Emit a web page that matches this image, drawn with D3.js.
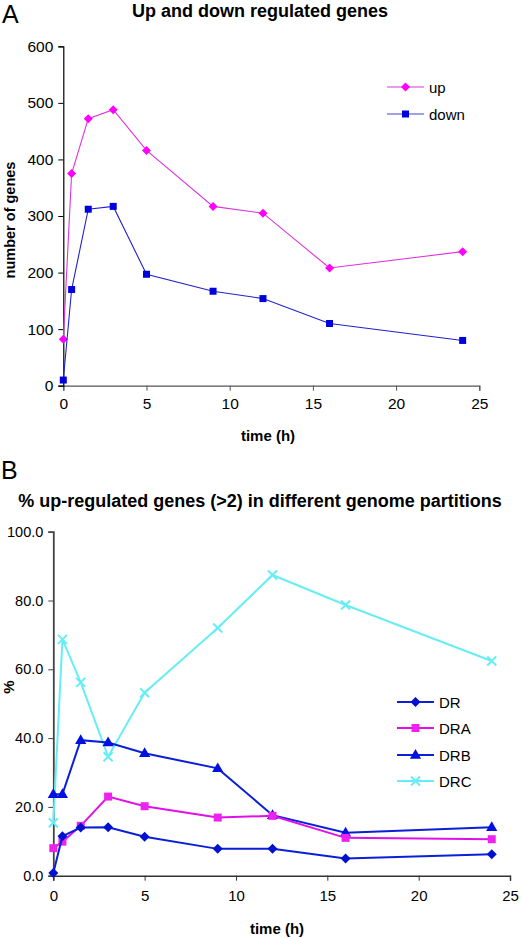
<!DOCTYPE html>
<html><head><meta charset="utf-8">
<script src="https://cdn.jsdelivr.net/npm/d3@7"></script>
<style>body{margin:0;background:#fff}svg{display:block;font-family:"Liberation Sans",Arial,sans-serif}</style>
</head><body>
<script>
const times = [0, 0.5, 1.5, 3, 5, 9, 12, 16, 24];
const upGenes = [82, 375, 472, 488, 416, 317, 305, 208, 237];
const downGenes = [10, 170, 312, 317, 197, 167, 154, 110, 80];
const seriesDR = [0.8, 11.5, 14.0, 14.1, 11.3, 7.8, 7.8, 5.0, 6.2];
const seriesDRA = [8.0, 9.9, 14.5, 23.0, 20.2, 16.9, 17.4, 11.0, 10.6];
const seriesDRB = [23.7, 23.7, 39.4, 38.7, 35.6, 31.2, 17.6, 12.5, 14.1];
const seriesDRC = [15.4, 68.7, 56.2, 34.6, 53.2, 72.0, 87.4, 78.7, 62.4];
const xTicks = [0, 5, 10, 15, 20, 25];
const yTicksA = [0, 100, 200, 300, 400, 500, 600];
const yTicksB = [0, 20, 40, 60, 80, 100];

const W = 521, H = 938;
const FF = "Liberation Sans, Arial, sans-serif";
const svg = d3.select("body").append("svg").attr("width", W).attr("height", H);

function marker(g, type, x, y, color, s) {
  if (type === "diamond") {
    g.append("path").attr("d", d3.symbol(d3.symbolSquare, s * s / 2)())
      .attr("transform", `translate(${x},${y}) rotate(45)`).attr("fill", color);
  } else if (type === "square") {
    g.append("path").attr("d", d3.symbol(d3.symbolSquare, s * s)())
      .attr("transform", `translate(${x},${y})`).attr("fill", color);
  } else if (type === "triangle") {
    g.append("path").attr("d", d3.symbol(d3.symbolTriangle, s * s * 0.45)())
      .attr("transform", `translate(${x},${y + 0.5})`).attr("fill", color);
  } else if (type === "x") {
    const h = s / 2;
    g.append("path").attr("d", `M${x - h},${y - h}L${x + h},${y + h}M${x - h},${y + h}L${x + h},${y - h}`)
      .attr("stroke", color).attr("stroke-width", 2).attr("fill", "none");
  }
}

function drawSeries(g, x, y, vals, lineColor, markColor, type, size, lw) {
  const line = d3.line().x((d, i) => x(times[i])).y(d => y(d));
  g.append("path").datum(vals).attr("d", line).attr("fill", "none")
    .attr("stroke", lineColor).attr("stroke-width", lw);
  vals.forEach((v, i) => marker(g, type, x(times[i]), y(v), markColor, size));
}

function legendItem(g, x0, y0, lineColor, markColor, type, size, lw, label) {
  g.append("line").attr("x1", x0).attr("x2", x0 + 37).attr("y1", y0).attr("y2", y0)
    .attr("stroke", lineColor).attr("stroke-width", lw);
  marker(g, type, x0 + 18.5, y0, markColor, size);
  g.append("text").attr("x", x0 + 42).attr("y", y0 + 5.5).attr("font-size", 15).text(label);
}

// ---------- Chart A ----------
{
  const g = svg.append("g");
  const x = d3.scaleLinear().domain([0, 25]).range([63.3, 479.3]);
  const y = d3.scaleLinear().domain([0, 600]).range([385.7, 46.3]);
  g.append("text").attr("x", 2).attr("y", 23).attr("font-size", 25).text("A");
  g.append("text").attr("x", 260).attr("y", 17).attr("text-anchor", "middle")
    .attr("font-size", 18).attr("font-weight", "bold").text("Up and down regulated genes");
  const xa = g.append("g").attr("transform", `translate(0,${y(0)})`)
    .call(d3.axisBottom(x).tickValues(xTicks).tickSize(5).tickPadding(7).tickFormat(d3.format("d")));
  xa.select(".domain").attr("stroke", "#555").attr("stroke-width", 1.2);
  xa.selectAll(".tick line").attr("stroke", "#555");
  xa.selectAll("text").attr("font-size", 15.5).attr("font-family", FF).attr("fill", "#000");
  const ya = g.append("g").attr("transform", `translate(${x(0)},0)`)
    .call(d3.axisLeft(y).tickValues(yTicksA).tickSize(5).tickPadding(5).tickFormat(d3.format("d")));
  ya.select(".domain").attr("stroke", "#000").attr("stroke-width", 1.2);
  ya.selectAll("text").attr("font-size", 15.5).attr("font-family", FF).attr("fill", "#000");
  g.append("text").attr("transform", `translate(15,220) rotate(-90)`).attr("text-anchor", "middle")
    .attr("font-size", 14.5).attr("font-weight", "bold").text("number of genes");
  g.append("text").attr("x", 268).attr("y", 441).attr("text-anchor", "middle")
    .attr("font-size", 15).attr("font-weight", "bold").text("time (h)");
  drawSeries(g, x, y, upGenes, "#dd33dd", "#ff00ff", "diamond", 9, 1.1);
  drawSeries(g, x, y, downGenes, "#2222cc", "#0000dd", "square", 7, 1.1);
  legendItem(g, 387, 87, "#dd33dd", "#ff00ff", "diamond", 9, 1.1, "up");
  legendItem(g, 387, 114, "#4444cc", "#0000dd", "square", 7, 1.1, "down");
}

// ---------- Chart B ----------
{
  const g = svg.append("g");
  const x = d3.scaleLinear().domain([0, 25]).range([53.3, 510]);
  const y = d3.scaleLinear().domain([0, 100]).range([875.7, 531.7]);
  g.append("text").attr("x", 1).attr("y", 479).attr("font-size", 25).text("B");
  g.append("text").attr("x", 260).attr("y", 507).attr("text-anchor", "middle")
    .attr("font-size", 18).attr("font-weight", "bold").text("% up-regulated genes (>2) in different genome partitions");
  const xa = g.append("g").attr("transform", `translate(0,${y(0)})`)
    .call(d3.axisBottom(x).tickValues(xTicks).tickSize(5).tickPadding(10).tickFormat(d3.format("d")));
  xa.select(".domain").attr("stroke", "#333").attr("stroke-width", 1.5);
  xa.selectAll(".tick line").attr("stroke", "#333");
  xa.selectAll("text").attr("font-size", 15).attr("font-family", FF).attr("fill", "#000");
  const ya = g.append("g").attr("transform", `translate(${x(0)},0)`)
    .call(d3.axisLeft(y).tickValues(yTicksB).tickSize(5).tickPadding(5).tickFormat(d3.format(".1f")));
  ya.select(".domain").attr("stroke", "#444").attr("stroke-width", 1.8);
  ya.selectAll(".tick line").attr("stroke", "#444");
  ya.selectAll("text").attr("font-size", 14.5).attr("font-family", FF).attr("fill", "#000");
  g.append("text").attr("transform", `translate(14,687) rotate(-90)`).attr("text-anchor", "middle")
    .attr("font-size", 15).attr("font-weight", "bold").text("%");
  g.append("text").attr("x", 277).attr("y", 934).attr("text-anchor", "middle")
    .attr("font-size", 15).attr("font-weight", "bold").text("time (h)");
  const cyan = "#66eef4";
  drawSeries(g, x, y, seriesDRC, cyan, cyan, "x", 9, 2);
  drawSeries(g, x, y, seriesDRB, "#0a1fd8", "#0010e0", "triangle", 11, 2);
  drawSeries(g, x, y, seriesDRA, "#e010e8", "#ee22ee", "square", 8, 2);
  drawSeries(g, x, y, seriesDR, "#0a1fd8", "#0010d0", "diamond", 10, 2);
  legendItem(g, 397, 702, "#0a1fd8", "#0010d0", "diamond", 10, 2, "DR");
  legendItem(g, 397, 728, "#e010e8", "#ee22ee", "square", 8, 2, "DRA");
  legendItem(g, 397, 755, "#0a1fd8", "#0010e0", "triangle", 11, 2, "DRB");
  legendItem(g, 397, 781, cyan, cyan, "x", 9, 2, "DRC");
}
</script>
</body></html>
